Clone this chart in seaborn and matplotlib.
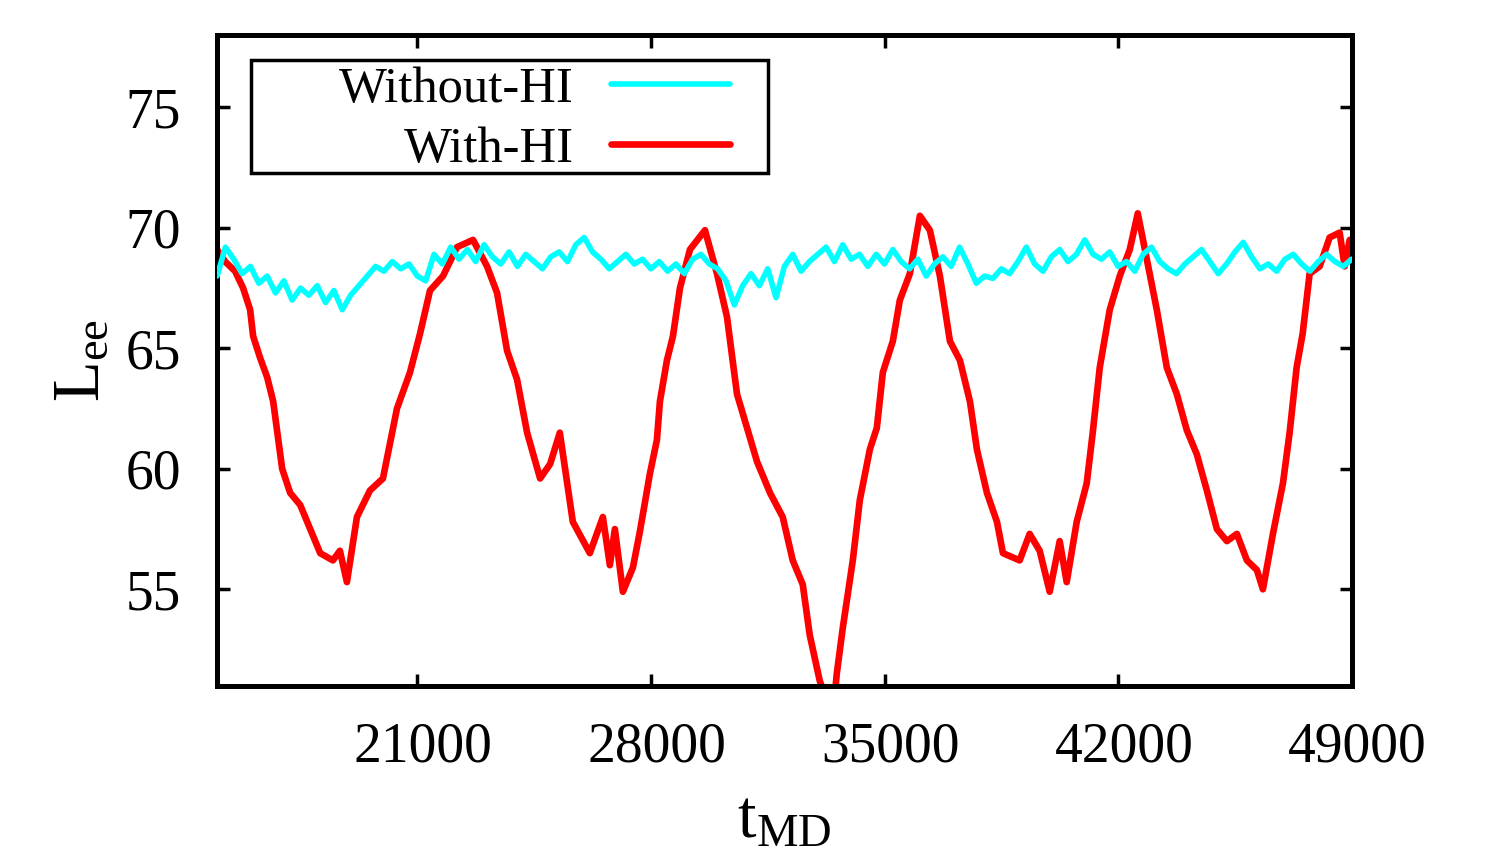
import numpy as np
import pandas as pd
import matplotlib
matplotlib.use("Agg")
import matplotlib.pyplot as plt
import matplotlib.transforms as mtransforms
from matplotlib.patches import Rectangle
from matplotlib.legend_handler import HandlerLine2D
import seaborn as sns

# ---- data ----
t_with = [15000, 15240, 15540, 15780, 15990, 16080, 16290, 16500, 16680, 16950,
          17190, 17490, 17700, 18090, 18470, 18680, 18890, 19190, 19580, 19970,
          20390, 20780, 21080, 21380, 21770, 22190, 22670, 23090, 23390, 23690,
          23990, 24290, 24680, 24980, 25270, 25660, 26170, 26560, 26770, 26920,
          27160, 27460, 27670, 27970, 28180, 28270, 28480, 28660, 28870, 29170,
          29620, 29980, 30280, 30580, 30880, 31180, 31570, 31950, 32250, 32550,
          32760, 33060, 33300, 33510, 33570, 33750, 34050, 34260, 34560, 34770,
          34950, 35250, 35460, 35760, 36060, 36360, 36660, 36960, 37260, 37560,
          37770, 38070, 38370, 38550, 39050, 39350, 39650, 39950, 40250, 40460,
          40760, 41060, 41240, 41450, 41750, 42050, 42350, 42590, 42860, 43160,
          43460, 43760, 44060, 44360, 44660, 44960, 45260, 45560, 45860, 46160,
          46340, 46640, 46940, 47140, 47350, 47530, 47740, 48040, 48340, 48640,
          48790, 48940]
L_with = [69.1, 68.6, 68.2, 67.5, 66.6, 65.5, 64.6, 63.8, 62.8, 60.0,
          59.0, 58.5, 57.8, 56.5, 56.2, 56.6, 55.3, 58.0, 59.1, 59.6,
          62.5, 64.0, 65.6, 67.4, 68.0, 69.2, 69.5, 68.4, 67.3, 64.9,
          63.7, 61.5, 59.6, 60.2, 61.5, 57.8, 56.5, 58.0, 56.0, 57.5,
          54.9, 55.9, 57.4, 59.8, 61.2, 62.8, 64.5, 65.5, 67.5, 69.1,
          69.9, 68.1, 66.3, 63.1, 61.7, 60.3, 59.0, 58.0, 56.2, 55.2,
          53.1, 51.2, 50.3, 50.6, 51.5, 53.4, 56.2, 58.7, 60.8, 61.7,
          64.0, 65.3, 67.0, 68.1, 70.5, 69.9, 68.0, 65.3, 64.5, 62.8,
          60.8, 59.0, 57.8, 56.5, 56.2, 57.3, 56.6, 54.9, 57.0, 55.3,
          57.8, 59.4, 61.5, 64.2, 66.6, 68.0, 69.1, 70.6, 68.7, 66.6,
          64.2, 63.1, 61.6, 60.6, 59.1, 57.5, 57.0, 57.3, 56.2, 55.8,
          55.0, 57.3, 59.4, 61.5, 64.2, 65.6, 68.1, 68.4, 69.6, 69.8,
          68.4, 69.5]

t_without = list(range(15000, 49001, 250))
L_without = [68.0, 69.2, 68.7, 68.1, 68.4, 67.7, 68.0, 67.3, 67.8, 67.0,
             67.5, 67.2, 67.6, 66.9, 67.4, 66.6, 67.2, 67.6, 68.0, 68.4,
             68.2, 68.6, 68.3, 68.5, 68.0, 67.8, 68.9, 68.5, 69.2, 68.7,
             69.1, 68.6, 69.3, 68.8, 68.5, 69.0, 68.4, 68.9, 68.6, 68.3,
             68.8, 69.0, 68.6, 69.3, 69.6, 69.0, 68.7, 68.3, 68.6, 68.9,
             68.5, 68.7, 68.3, 68.6, 68.2, 68.5, 68.1, 68.7, 68.9, 68.5,
             68.3, 67.8, 66.8, 67.6, 68.1, 67.6, 68.3, 67.1, 68.4, 68.9,
             68.2, 68.6, 68.9, 69.2, 68.6, 69.3, 68.7, 68.9, 68.4, 68.9,
             68.5, 69.1, 68.6, 68.3, 68.7, 68.0, 68.5, 68.8, 68.4, 69.2,
             68.5, 67.7, 68.0, 67.9, 68.3, 68.1, 68.6, 69.2, 68.5, 68.2,
             68.8, 69.1, 68.6, 68.9, 69.5, 68.9, 68.7, 69.0, 68.4, 68.6,
             68.2, 68.9, 69.2, 68.6, 68.3, 68.1, 68.5, 68.8, 69.1, 68.6,
             68.1, 68.5, 69.0, 69.4, 68.8, 68.3, 68.5, 68.2, 68.7, 68.9,
             68.5, 68.2, 68.6, 68.9, 68.6, 68.4, 68.7]

x_ticks = [21000, 28000, 35000, 42000, 49000]
y_ticks = [55, 60, 65, 70, 75]
series_names = ["Without-HI", "With-HI"]
series_colors = ["#00FFFF", "#FF0000"]

# ---- style ----
sns.set_style("ticks")
plt.rcParams["font.family"] = ["Liberation Serif", "DejaVu Serif"]
plt.rcParams["mathtext.fontset"] = "custom"
plt.rcParams["mathtext.rm"] = "Liberation Serif"
plt.rcParams["mathtext.it"] = "Liberation Serif"
plt.rcParams["mathtext.default"] = "regular"
for k in ["text.color", "axes.labelcolor", "xtick.color", "ytick.color",
          "axes.edgecolor"]:
    plt.rcParams[k] = "black"

fig = plt.figure(figsize=(14.87, 8.55), dpi=100)
ax = fig.add_axes([0.146, 0.198, 0.763, 0.761])

df_with = pd.DataFrame({"t": t_with, "L": L_with})
df_without = pd.DataFrame({"t": t_without, "L": L_without})

sns.lineplot(data=df_with, x="t", y="L", ax=ax, color=series_colors[1],
             linewidth=4.8, label=series_names[1], zorder=2)
sns.lineplot(data=df_without, x="t", y="L", ax=ax, color=series_colors[0],
             linewidth=4.0, label=series_names[0], zorder=3)

ax.set_xlim(15000, 49000)
ax.set_ylim(51, 78)
ax.set_xticks(x_ticks)
ax.set_yticks(y_ticks)

ax.tick_params(axis="both", which="major", direction="in", length=9, width=2.5,
               labelsize=40, top=True, right=True, pad=26, color="black",
               labelcolor="black")
ax.tick_params(axis="x", pad=26)
for sp in ax.spines.values():
    sp.set_linewidth(3.6)
    sp.set_color("black")
    sp.set_visible(True)

offset = mtransforms.ScaledTranslation(0.06, 0, fig.dpi_scale_trans)
for lab in ax.get_xticklabels():
    lab.set_transform(lab.get_transform() + offset)

ax.set_xlabel(r"$t_{MD}$", fontsize=48, labelpad=12)
ax.set_ylabel(r"$L_{ee}$", fontsize=48, labelpad=9)


class HandlerPartialLine(HandlerLine2D):
    def create_artists(self, legend, orig_handle, xdescent, ydescent, width,
                       height, fontsize, trans):
        return super().create_artists(legend, orig_handle, xdescent, ydescent,
                                      width * 0.76, height, fontsize, trans)


handles, labels = ax.get_legend_handles_labels()
order = [labels.index(n) for n in series_names]
hmap = {h: HandlerPartialLine() for h in handles}
# legend frame drawn as a rectangle in axes coordinates
ax.add_patch(Rectangle((0.030, 0.788), 0.4555, 0.1736, transform=ax.transAxes,
                       fill=True, facecolor="white", edgecolor="black",
                       linewidth=2.5, zorder=5))
leg = ax.legend([handles[i] for i in order], [labels[i] for i in order],
                loc="upper right", bbox_to_anchor=(0.491, 0.9616), fontsize=36.5,
                markerfirst=False, frameon=False, handlelength=3.1,
                handletextpad=0.74, borderpad=0.12, labelspacing=0.27,
                borderaxespad=0, handler_map=hmap)
leg.set_zorder(6)
for txt in leg.get_texts():
    txt.set_ha("right")

fig.savefig("out.png", dpi=100)
